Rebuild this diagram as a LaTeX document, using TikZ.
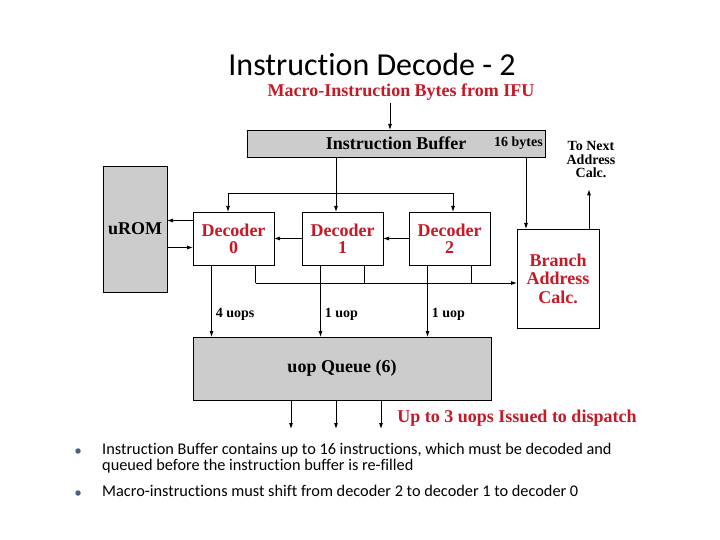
\documentclass[tikz,border=0pt]{standalone}
\usepackage{fontspec}
\setmainfont{Liberation Serif}
\newfontfamily\slidefont[Ligatures=NoCommon]{Carlito}
\usetikzlibrary{positioning,arrows.meta,calc}

\definecolor{diagred}{RGB}{200,24,38}
\definecolor{bulletblue}{RGB}{80,96,128}

\begin{document}
\begin{tikzpicture}[
  x=1pt, y=-1pt,
  font=\fontsize{18}{17}\selectfont\bfseries,
  block/.style={draw, line width=0.8pt, inner sep=0pt, outer sep=0pt, align=center},
  shaded/.style={block, fill=black!20},
  decbox/.style={block, minimum width=81pt, minimum height=53pt, text=diagred},
  redlab/.style={text=diagred, inner sep=1pt},
  smalllab/.style={font=\fontsize{14}{13.5}\selectfont\bfseries, align=center, inner sep=1pt},
  arr/.style={-{Latex[length=6pt,width=4pt]}, line width=0.8pt},
  wire/.style={line width=0.8pt},
  slidetext/.style={font=\slidefont\fontsize{16.3}{15.5}\selectfont, align=left, inner sep=0pt, anchor=north west}
]
\useasboundingbox (0,0) rectangle (720,540);

% title and source
\node[font=\slidefont\fontsize{32}{34}\selectfont] (title) at (372,65) {Instruction Decode - 2};
\node[redlab] (src) at (401,92) {Macro-Instruction Bytes from IFU};

% main blocks
\node[shaded, minimum width=298pt, minimum height=27pt] (ibuf) at (396,143.5) {Instruction Buffer};
\node[smalllab, anchor=east] (ibytes) at ([xshift=-1pt]ibuf.east) {16 bytes};
\node[shaded, minimum width=64pt, minimum height=126pt] (urom) at (135,229) {uROM};
\node[decbox] (dec0) at (233.5,238.5) {Decoder\\0};
\node[decbox, right=28pt of dec0] (dec1) {Decoder\\1};
\node[decbox, right=26pt of dec1] (dec2) {Decoder\\2};
\node[block, minimum width=82pt, minimum height=99pt, text=diagred,
      font=\fontsize{18}{18.5}\selectfont\bfseries] (bac) at (558,278.5) {Branch\\Address\\Calc.};
\node[smalllab] (next) at (591,160) {To Next\\Address\\Calc.};
\node[shaded, minimum width=298pt, minimum height=63pt] (queue) at (342,368.5) {uop Queue (6)};
\node[redlab] (issue) at (517,418) {Up to 3 uops Issued to dispatch};

% instruction bytes into the buffer
\draw[arr] ([xshift=-11pt,yshift=-2pt]src.south) -- ([xshift=-6pt]ibuf.north);

% buffer to decoders
\coordinate (d0in) at ([xshift=-5.5pt]dec0.north);
\coordinate (d1in) at ([xshift=-6.5pt]dec1.north);
\coordinate (d2in) at ([xshift=3.5pt]dec2.north);
\coordinate (bus) at (0,193);
\draw[arr] (d1in |- ibuf.south) -- (d1in);
\draw[arr] (d0in |- bus) -- (d0in);
\draw[arr] (d0in |- bus) -- (d2in |- bus) -- (d2in);

% buffer to branch calc and onward
\coordinate (bin) at ([xshift=-32pt]bac.north);
\coordinate (bout) at ([xshift=31pt]bac.north);
\draw[arr] (bin |- ibuf.south) -- (bin);
\draw[arr] (bout) -- ($(bout |- next.south)+(0,10)$);

% shifting between decoders
\draw[arr] (dec1.west) -- (dec0.east);
\draw[arr] (dec2.west) -- (dec1.east);

% uROM exchange
\coordinate (r1) at ([yshift=18pt]dec0.west);
\coordinate (r2) at ([yshift=-9pt]dec0.west);
\draw[arr] (r1) -- (r1 -| urom.east);
\draw[arr] (r2 -| urom.east) -- (r2);

% decoders to uop queue
\foreach \d/\lab in {dec0/4 uops, dec1/1 uop, dec2/1 uop} {
  \coordinate (o\d) at ([xshift=-22pt]\d.south);
  \draw[arr] (o\d) -- node[smalllab, right=3pt, pos=0.69] {\lab} (o\d |- queue.north);
}

% decoders to branch calc
\coordinate (bbus) at ([yshift=-4.5pt]bac.west);
\foreach \d in {dec0,dec1,dec2} {
  \coordinate (b\d) at ([xshift=22pt]\d.south);
  \draw[wire] (b\d) -- (b\d |- bbus);
}
\draw[arr] (bdec0 |- bbus) -- (bbus);

% queue outputs
\foreach \dx in {-51,-6,39}
  \draw[arr] ([xshift=\dx pt]queue.south) -- ++(0,29);

% notes
\node[circle, fill=bulletblue, inner sep=0pt, minimum size=5.5pt] (dot1) at (78,451) {};
\node[slidetext] (note1) at (102,443) {Instruction Buffer contains up to 16 instructions, which must be decoded and\\queued before the instruction buffer is re-filled};
\node[circle, fill=bulletblue, inner sep=0pt, minimum size=5.5pt] (dot2) at (78,493) {};
\node[slidetext] (note2) at (102,485) {Macro-instructions must shift from decoder 2 to decoder 1 to decoder 0};
\end{tikzpicture}
\end{document}
